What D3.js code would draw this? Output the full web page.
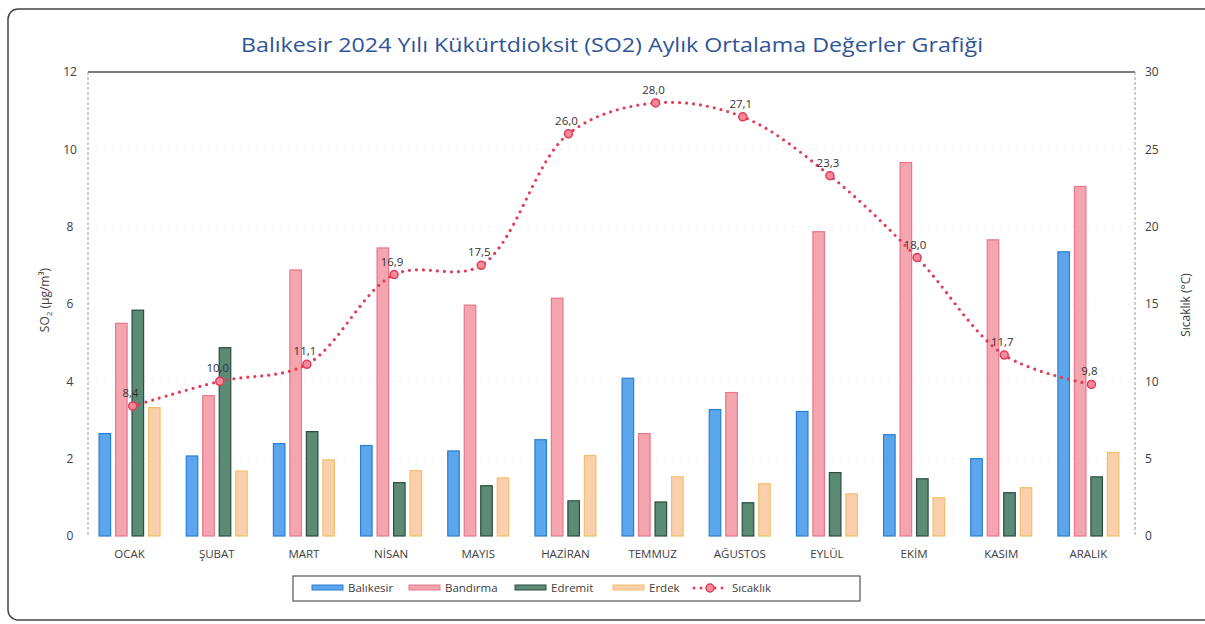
<!DOCTYPE html>
<html>
<head>
<meta charset="utf-8">
<script src="https://cdn.jsdelivr.net/npm/d3@7"></script>
<style>
  body { margin: 0; background: #fff; }
  svg { font-family: "Open Sans", sans-serif; }
</style>
</head>
<body>
<svg width="1205" height="624"></svg>
<script>
// data
const months = ["OCAK", "ŞUBAT", "MART", "NİSAN", "MAYIS", "HAZİRAN", "TEMMUZ", "AĞUSTOS", "EYLÜL", "EKİM", "KASIM", "ARALIK"];
const stations = ["Balıkesir", "Bandırma", "Edremit", "Erdek"];
const balikesir = [2.65, 2.07, 2.39, 2.34, 2.2, 2.49, 4.08, 3.27, 3.22, 2.62, 2.0, 7.35];
const bandirma = [5.5, 3.63, 6.88, 7.45, 5.97, 6.15, 2.65, 3.71, 7.87, 9.66, 7.66, 9.04];
const edremit = [5.84, 4.87, 2.7, 1.38, 1.3, 0.91, 0.88, 0.86, 1.64, 1.48, 1.12, 1.53];
const erdek = [3.32, 1.68, 1.97, 1.69, 1.5, 2.08, 1.53, 1.35, 1.09, 0.99, 1.25, 2.16];
const sicaklik = [8.4, 10.0, 11.1, 16.9, 17.5, 26.0, 28.0, 27.1, 23.3, 18.0, 11.7, 9.8];
const leftTicks = [0, 2, 4, 6, 8, 10, 12];
const rightTicks = [0, 5, 10, 15, 20, 25, 30];

const series = [balikesir, bandirma, edremit, erdek];
const fills = ["#5ba6ec", "#f5a5af", "#5b8a75", "#f9d0ab"];
const edges = ["#2a7fd4", "#e8788a", "#2d4c3e", "#f2c06a"];

const svg = d3.select("svg");

// outer frame
svg.append("rect")
  .attr("x", 8).attr("y", 9).attr("width", 1220).attr("height", 611)
  .attr("rx", 10)
  .attr("fill", "none").attr("stroke", "#444").attr("stroke-width", 1.5);

const plot = { left: 88, right: 1135, top: 72, bottom: 536 };

const x0 = d3.scaleBand().domain(months).range([86, 1132]).paddingInner(0.3).paddingOuter(0.15);
const x1 = d3.scaleBand().domain(stations).range([0, x0.bandwidth()]).paddingInner(0.3);
const yL = d3.scaleLinear().domain([0, 12]).range([plot.bottom, plot.top]);
const yR = d3.scaleLinear().domain([0, 30]).range([plot.bottom, plot.top]);

// title
svg.append("text")
  .attr("x", 612).attr("y", 52)
  .attr("text-anchor", "middle")
  .attr("font-size", 20.5)
  .attr("fill", "#2f5597")
  .attr("textLength", 742).attr("lengthAdjust", "spacingAndGlyphs")
  .text("Balıkesir 2024 Yılı Kükürtdioksit (SO2) Aylık Ortalama Değerler Grafiği");

// faint gridlines
svg.append("g")
  .selectAll("line")
  .data(leftTicks.slice(1))
  .join("line")
  .attr("x1", plot.left).attr("x2", plot.right)
  .attr("y1", (d) => yL(d)).attr("y2", (d) => yL(d))
  .attr("stroke", "#f0f0f0").attr("stroke-dasharray", "2 6");

// plot frame
svg.append("line")
  .attr("x1", plot.left).attr("x2", plot.right).attr("y1", plot.top).attr("y2", plot.top)
  .attr("stroke", "#555").attr("stroke-width", 1.3);
svg.append("line")
  .attr("x1", plot.left).attr("x2", plot.left).attr("y1", plot.top).attr("y2", plot.bottom)
  .attr("stroke", "#999").attr("stroke-dasharray", "3 2");
svg.append("line")
  .attr("x1", plot.right).attr("x2", plot.right).attr("y1", plot.top).attr("y2", plot.bottom)
  .attr("stroke", "#999").attr("stroke-dasharray", "3 2");

// axes
const axL = svg.append("g")
  .attr("transform", `translate(${plot.left - 12},0)`)
  .call(d3.axisLeft(yL).tickValues(leftTicks).tickSize(0).tickPadding(0));
const axR = svg.append("g")
  .attr("transform", `translate(${plot.right + 10},0)`)
  .call(d3.axisRight(yR).tickValues(rightTicks).tickSize(0).tickPadding(0));
const axX = svg.append("g")
  .attr("transform", `translate(0,${plot.bottom + 12})`)
  .call(d3.axisBottom(x0).tickSize(0).tickPadding(0));
[axL, axR, axX].forEach((ax) => {
  ax.select(".domain").remove();
  ax.selectAll("text")
    .attr("font-family", "Open Sans, sans-serif")
    .attr("font-size", 12)
    .attr("fill", "#404040");
});
axL.selectAll("text").attr("text-anchor", "middle").attr("dx", -6);
axX.selectAll("text").attr("font-size", 11.5).attr("dy", "0.9em");

// axis titles
svg.append("text")
  .attr("transform", "translate(49,300) rotate(-90)")
  .attr("text-anchor", "middle")
  .attr("font-size", 12).attr("fill", "#404040")
  .html('SO<tspan font-size="8" dy="3">2</tspan><tspan dy="-3"> (μg/m³)</tspan>');
svg.append("text")
  .attr("transform", "translate(1190,305) rotate(-90)")
  .attr("text-anchor", "middle")
  .attr("font-size", 12).attr("fill", "#404040")
  .text("Sıcaklık (°C)");

// bars
const groups = svg.append("g")
  .selectAll("g")
  .data(months)
  .join("g")
  .attr("transform", (d) => `translate(${x0(d)},0)`);

groups.selectAll("rect")
  .data((m, i) => stations.map((s, k) => ({ s, k, v: series[k][i] })))
  .join("rect")
  .attr("x", (d) => x1(d.s))
  .attr("y", (d) => yL(d.v))
  .attr("width", x1.bandwidth())
  .attr("height", (d) => yL(0) - yL(d.v))
  .attr("fill", (d) => fills[d.k])
  .attr("stroke", (d) => edges[d.k])
  .attr("stroke-width", 1.2);

// temperature line
const tx = (i) => x0(months[i]) + x0.bandwidth() / 2 + 3;
const line = d3.line()
  .x((d, i) => tx(i))
  .y((d) => yR(d))
  .curve(d3.curveCatmullRom.alpha(0.5));

svg.append("path")
  .datum(sicaklik)
  .attr("d", line)
  .attr("fill", "none")
  .attr("stroke", "#e23c58")
  .attr("stroke-width", 3.2)
  .attr("stroke-linecap", "round")
  .attr("stroke-dasharray", "0 7");

svg.append("g")
  .selectAll("circle")
  .data(sicaklik)
  .join("circle")
  .attr("cx", (d, i) => tx(i))
  .attr("cy", (d) => yR(d))
  .attr("r", 4)
  .attr("fill", "#f58a9b")
  .attr("stroke", "#e23c58")
  .attr("stroke-width", 1.5);

svg.append("g")
  .selectAll("text")
  .data(sicaklik)
  .join("text")
  .attr("x", (d, i) => tx(i) - 2)
  .attr("y", (d) => yR(d) - 9)
  .attr("text-anchor", "middle")
  .attr("font-size", 11.5)
  .attr("fill", "#333")
  .text((d) => d.toFixed(1).replace(".", ","));

// legend
const lg = svg.append("g");
lg.append("rect")
  .attr("x", 293).attr("y", 576).attr("width", 567).attr("height", 25)
  .attr("fill", "#fff").attr("stroke", "#555").attr("stroke-width", 1.2);
const legendX = [312, 409, 515, 613];
stations.forEach((s, k) => {
  lg.append("rect")
    .attr("x", legendX[k]).attr("y", 585).attr("width", 31).attr("height", 5)
    .attr("fill", fills[k]).attr("stroke", edges[k]).attr("stroke-width", 1);
  lg.append("text")
    .attr("x", legendX[k] + 36).attr("y", 592)
    .attr("font-size", 11.5).attr("fill", "#404040")
    .text(s);
});
lg.append("line")
  .attr("x1", 694).attr("x2", 726).attr("y1", 588).attr("y2", 588)
  .attr("stroke", "#e23c58").attr("stroke-width", 3).attr("stroke-linecap", "round")
  .attr("stroke-dasharray", "0 7");
lg.append("circle")
  .attr("cx", 710).attr("cy", 588).attr("r", 4)
  .attr("fill", "#f58a9b").attr("stroke", "#e23c58").attr("stroke-width", 1.5);
lg.append("text")
  .attr("x", 732).attr("y", 592)
  .attr("font-size", 11.5).attr("fill", "#404040")
  .text("Sıcaklık");
</script>
</body>
</html>
